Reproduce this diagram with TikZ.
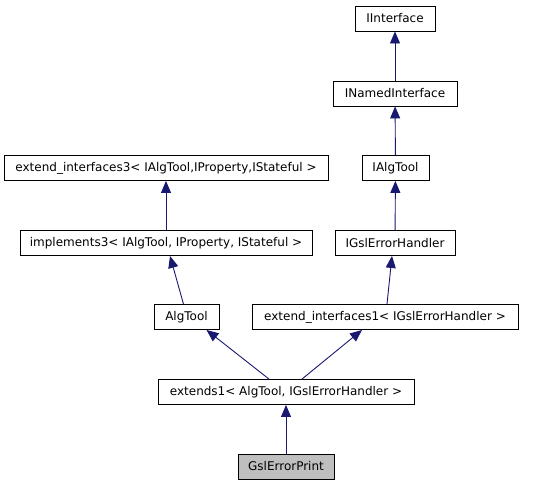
\documentclass[tikz,border=0pt]{standalone}
\usepackage{fontspec}
\setmainfont{DejaVu Sans}
\usetikzlibrary{arrows.meta}
\definecolor{edgeblue}{HTML}{191970}

\begin{document}
\begin{tikzpicture}[x=1pt,y=-1pt,
  cls/.style={draw=black,line width=0.9pt,fill=white,minimum height=25pt,inner sep=0pt,font=\fontsize{12}{14}\selectfont},
  inh/.style={draw=edgeblue,line width=0.9pt,-{Triangle[length=12pt,width=10pt]}}]
\useasboundingbox (0,0) rectangle (541,485);

\node[cls,minimum width=80pt] (iinterface) at (395,18.5) {IInterface};
\node[cls,minimum width=124pt] (inamed) at (395,93.5) {INamedInterface};
\node[cls,minimum width=67pt] (ialgtool) at (395.5,168) {IAlgTool};
\node[cls,minimum width=324pt] (extint3) at (166,168) {extend\_interfaces3< IAlgTool,IProperty,IStateful >};
\node[cls,minimum width=292pt] (impl3) at (166,243) {implements3< IAlgTool, IProperty, IStateful >};
\node[cls,minimum width=120pt] (igsl) at (395,243) {IGslErrorHandler};
\node[cls,minimum width=65pt] (algtool) at (186.5,317) {AlgTool};
\node[cls,minimum width=266pt] (extint1) at (385,317) {extend\_interfaces1< IGslErrorHandler >};
\node[cls,minimum width=256pt] (extends1) at (286,392) {extends1< AlgTool, IGslErrorHandler >};
\node[cls,minimum width=96pt,fill=black!25] (gslprint) at (286,466.5) {GslErrorPrint};

\draw[inh] (inamed) -- (iinterface);
\draw[inh] (ialgtool) -- (inamed);
\draw[inh] (igsl) -- (ialgtool);
\draw[inh] (impl3) -- (extint3);
\draw[inh] ([xshift=-3pt]algtool.north) -- ([xshift=4pt]impl3.south);
\draw[inh] ([xshift=2pt]extint1.north) -- ([xshift=-3pt]igsl.south);
\draw[inh] ([xshift=-17pt]extends1.north) -- ([xshift=20pt]algtool.south);
\draw[inh] ([xshift=16pt]extends1.north) -- ([xshift=-23pt]extint1.south);
\draw[inh] (gslprint) -- (extends1);
\end{tikzpicture}
\end{document}
